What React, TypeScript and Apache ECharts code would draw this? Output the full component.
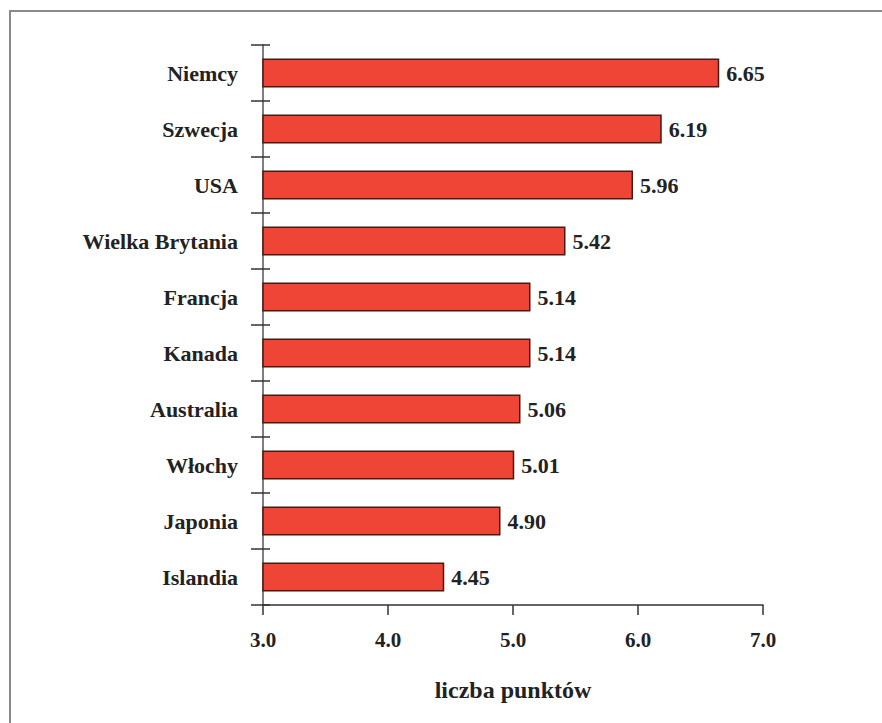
import React, { useEffect, useRef } from "react";
import * as echarts from "echarts";

const categories = [
  "Niemcy",
  "Szwecja",
  "USA",
  "Wielka Brytania",
  "Francja",
  "Kanada",
  "Australia",
  "Włochy",
  "Japonia",
  "Islandia",
];
const values = [6.65, 6.19, 5.96, 5.42, 5.14, 5.14, 5.06, 5.01, 4.9, 4.45];
const axisName = "liczba punktów";

const FONT = "'Liberation Serif', 'DejaVu Serif', serif";

export default function App() {
  const ref = useRef<HTMLDivElement>(null);
  useEffect(() => {
    if (!ref.current) return;
    const chart = echarts.init(ref.current, undefined, { renderer: "svg" });
    chart.setOption({
      animation: false,
      backgroundColor: "#ffffff",
      grid: { left: 263, right: 119, top: 45, bottom: 118, containLabel: false },
      graphic: [
        {
          type: "line",
          shape: { x1: 9, y1: 11, x2: 882, y2: 11 },
          style: { stroke: "#8a8a8a", lineWidth: 2 },
        },
        {
          type: "line",
          shape: { x1: 10, y1: 11, x2: 10, y2: 723 },
          style: { stroke: "#8a8a8a", lineWidth: 2 },
        },
      ],
      xAxis: {
        type: "value",
        min: 3,
        max: 7,
        interval: 1,
        name: axisName,
        nameLocation: "middle",
        nameGap: 73,
        nameTextStyle: {
          fontFamily: FONT,
          fontWeight: "bold",
          fontSize: 24,
          color: "#222",
          verticalAlign: "top",
        },
        axisLine: { show: true, lineStyle: { color: "#333", width: 1.5 } },
        axisTick: { show: true, length: 10, lineStyle: { color: "#333", width: 1.5 } },
        splitLine: { show: false },
        axisLabel: {
          margin: 24,
          fontFamily: FONT,
          fontWeight: "bold",
          fontSize: 21,
          color: "#222",
          formatter: (v: number) => v.toFixed(1),
        },
      },
      yAxis: [
        {
          type: "category",
          data: categories,
          inverse: true,
          axisLine: { show: true, lineStyle: { color: "#555", width: 1.5 } },
          axisTick: { show: true, length: 12, lineStyle: { color: "#333", width: 1.5 } },
          axisLabel: {
            margin: 25,
            fontFamily: FONT,
            fontWeight: "bold",
            fontSize: 22,
            color: "#222",
          },
        },
        {
          type: "category",
          data: categories,
          inverse: true,
          position: "left",
          axisLine: { show: false },
          axisTick: { show: true, inside: true, length: 7, lineStyle: { color: "#333", width: 1.5 } },
          axisLabel: { show: false },
        },
      ],
      series: [
        {
          type: "bar",
          yAxisIndex: 0,
          data: values,
          barWidth: 29,
          itemStyle: { color: "#ee4536", borderColor: "#4a1a12", borderWidth: 1.5 },
          label: {
            show: true,
            position: "right",
            distance: 7,
            fontFamily: FONT,
            fontWeight: "bold",
            fontSize: 22,
            color: "#222",
            formatter: (p: any) => p.value.toFixed(2),
          },
        },
      ],
    });
    return () => chart.dispose();
  }, []);
  return (
    <div
      ref={ref}
      style={{ position: "absolute", left: 0, top: 0, width: 882, height: 723 }}
    />
  );
}
